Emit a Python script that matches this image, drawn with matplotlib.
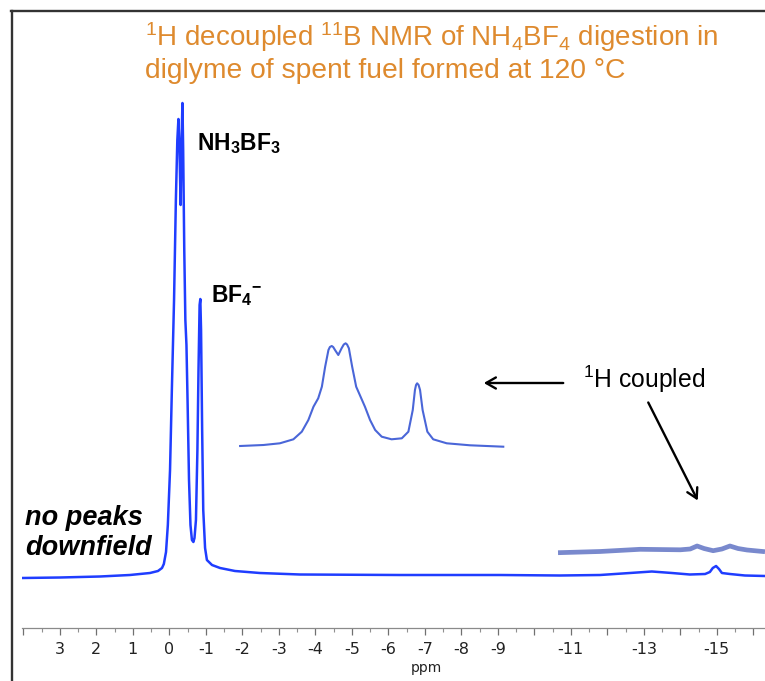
import matplotlib
matplotlib.use("Agg")
import matplotlib.pyplot as plt
from matplotlib.lines import Line2D
from matplotlib.patches import FancyArrowPatch
import numpy as np

plt.rcParams['mathtext.fontset'] = 'custom'
plt.rcParams['mathtext.rm'] = 'Liberation Sans'
plt.rcParams['mathtext.it'] = 'Liberation Sans:italic'
plt.rcParams['mathtext.bf'] = 'Liberation Sans:bold'

# ---- data (ppm, intensity in arbitrary units) ----
main_ppm = [4.04, 2.99, 1.90, 1.08, 0.53, 0.31, 0.20, 0.15, 0.09, 0.04, -0.02, -0.07,
            -0.13, -0.18, -0.22, -0.25, -0.28, -0.31, -0.33, -0.36, -0.38, -0.41, -0.44,
            -0.47, -0.50, -0.54, -0.58, -0.62, -0.66, -0.69, -0.73, -0.77, -0.80, -0.83,
            -0.85, -0.87, -0.90, -0.93, -0.98, -1.03, -1.17, -1.39, -1.80, -2.48, -3.58,
            -6.32, -9.06, -10.70, -11.80, -12.62, -13.22, -13.77, -14.26, -14.68, -14.81,
            -14.89, -14.98, -15.06, -15.14, -15.36, -15.77, -16.32]
main_int = [-1, -0.5, 0.5, 2, 4, 6, 9, 13, 25, 52, 107, 187,
            277, 377, 437, 458, 427, 372, 427, 474, 427, 327, 257,
            232, 177, 97, 52, 37, 35, 39, 57, 127, 207, 272,
            278, 247, 147, 67, 29, 17, 12, 9, 6, 4, 2.5,
            2, 2, 1.5, 2, 4, 5.5, 4, 2.5, 3, 5,
            9, 11, 8, 4, 3, 1.5, 1]

# 1H-coupled expansion of the 0 to -1 ppm region (drawn as an inset trace)
coupled1_x = [-1.94, -2.58, -3.03, -3.40, -3.63, -3.81, -3.95, -4.08, -4.18, -4.27, -4.36,
              -4.40, -4.45, -4.49, -4.54, -4.63, -4.72, -4.78, -4.83, -4.87, -4.92, -5.01,
              -5.12, -5.24, -5.36, -5.50, -5.64, -5.82, -6.09, -6.37, -6.55, -6.67, -6.73,
              -6.76, -6.79, -6.83, -6.87, -6.94, -7.07, -7.23, -7.60, -8.24, -9.15]
coupled1_y = [131, 132, 133.7, 137.7, 145.3, 157, 170.3, 178.7, 190.3, 210.3, 227,
              230, 231, 230, 227, 222, 228.7, 232.5, 233.7, 232.5, 228.7, 210.3,
              190.3, 180.3, 170.3, 157, 147, 140.3, 137.7, 138.7, 145.3, 167, 187,
              192, 193.7, 192, 187, 167, 145.3, 137.7, 133.7, 131.7, 130.3]

# 1H-coupled trace of the upfield region
coupled2_x = [-10.65, -11.80, -12.90, -14.00, -14.27, -14.46, -14.65, -14.90, -15.14,
              -15.36, -15.58, -15.83, -16.32]
coupled2_y = [24.3, 25.5, 27.7, 27.2, 28, 31, 28.5, 26.3, 28, 31, 28.5, 27, 25.3]

tick_pos = [3, 2, 1, 0, -1, -2, -3, -4, -5, -6, -7, -8, -9, -11, -13, -15]
tick_lab = ['3', '2', '1', '0', '-1', '-2', '-3', '-4', '-5', '-6', '-7', '-8', '-9',
            '-11', '-13', '-15']

W, H = 765, 681
fig = plt.figure(figsize=(W / 100, H / 100), dpi=100)

def fx(x):
    return x / W

def fy(y):
    return 1 - y / H

ax = fig.add_axes([fx(22), fy(628), 743 / W, 628 / H])
ax.set_xlim(4.0356, -16.3205)
ax.set_ylim(-51, 577)
ax.patch.set_visible(False)
for s in ['left', 'right', 'top']:
    ax.spines[s].set_visible(False)
ax.spines['bottom'].set_color('#8a8a8a')
ax.spines['bottom'].set_linewidth(0.9)
ax.set_yticks([])

ax.set_xticks(np.arange(4, -16.5, -1.0))
ax.set_xticklabels([])
ax.set_xticks(np.arange(3.5, -16.5, -1.0), minor=True)
ax.tick_params(axis='x', which='major', length=5, width=0.9, color='#707070', direction='out')
ax.tick_params(axis='x', which='minor', length=3, width=0.8, color='#909090', direction='out')
for p, lab in zip(tick_pos, tick_lab):
    ax.text(p, -51 - 21, lab, ha='center', va='center', fontsize=11.5,
            family='DejaVu Sans', color='#222222', clip_on=False)
ax.text(-7.05, -51 - 40, 'ppm', ha='center', va='center', fontsize=10,
        family='DejaVu Sans', color='#222222', clip_on=False)

ax.plot(main_ppm, main_int, color='#1f3dff', lw=1.8, solid_joinstyle='round')
ax.plot(coupled1_x, coupled1_y, color='#4a66d8', lw=1.5, solid_joinstyle='round')
ax.plot(coupled2_x, coupled2_y, color='#6a7cc8', lw=3.4, alpha=0.9,
        solid_capstyle='butt', solid_joinstyle='round')

# frame lines (top and left only)
fig.add_artist(Line2D([fx(12), fx(12)], [0, fy(10.5)], transform=fig.transFigure,
                      color='#333333', lw=1.7))
fig.add_artist(Line2D([fx(11.2), 1], [fy(10.5), fy(10.5)], transform=fig.transFigure,
                      color='#333333', lw=1.7))

orange = '#DE8A2E'
fig.text(fx(145), fy(46), r'$^{1}$H decoupled $^{11}$B NMR of NH$_{4}$BF$_{4}$ digestion in',
         fontsize=20, color=orange, family='Liberation Sans', va='baseline')
fig.text(fx(145), fy(78), 'diglyme of spent fuel formed at 120 °C',
         fontsize=20.3, color=orange, family='Liberation Sans', va='baseline')

fig.text(fx(197), fy(150), r'$\mathbf{NH_{3}BF_{3}}$', fontsize=16.5, color='black',
         va='baseline')
fig.text(fx(211), fy(302), r'$\mathbf{BF_{4}{}^{-}}$', fontsize=16.5, color='black',
         va='baseline')
fig.text(fx(25), fy(525), 'no peaks', fontsize=19.5, color='black',
         family='Liberation Sans', weight='bold', style='italic', va='baseline')
fig.text(fx(25), fy(555), 'downfield', fontsize=19.5, color='black',
         family='Liberation Sans', weight='bold', style='italic', va='baseline')
fig.text(fx(583), fy(388), r'$^{1}$H coupled', fontsize=17.8, color='black',
         family='Liberation Sans', va='baseline')

fig.add_artist(FancyArrowPatch(
    (fx(566), fy(383)), (fx(481), fy(383)), transform=fig.transFigure,
    arrowstyle='->,head_length=7,head_width=4', lw=1.7, color='black'))
fig.add_artist(FancyArrowPatch(
    (fx(647), fy(400)), (fx(699), fy(503)), transform=fig.transFigure,
    arrowstyle='->,head_length=7,head_width=4', lw=1.7, color='black'))

fig.savefig('out.png', dpi=100)
